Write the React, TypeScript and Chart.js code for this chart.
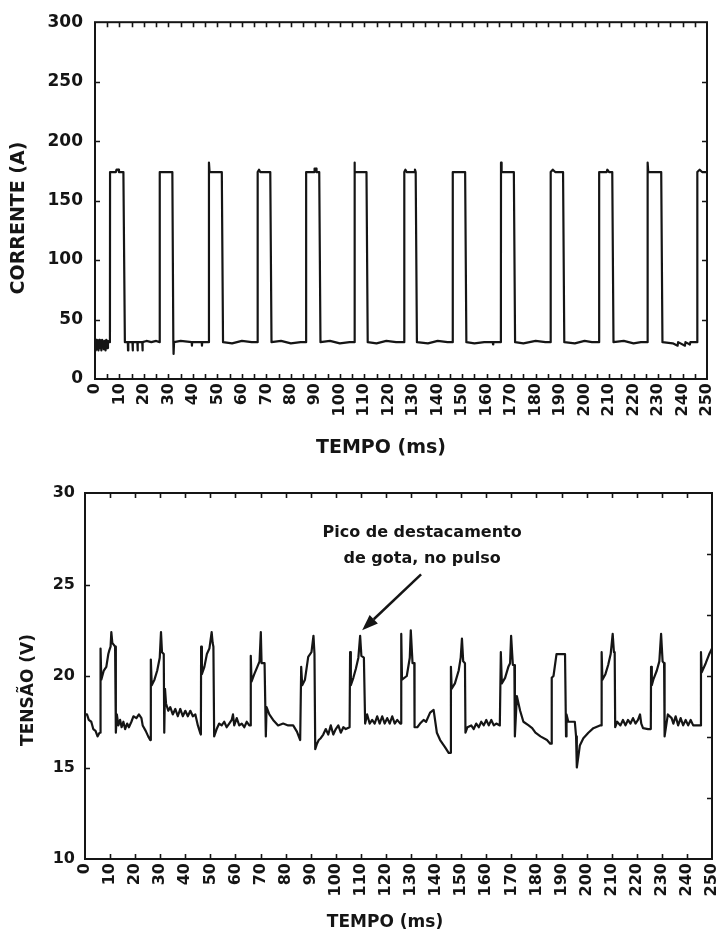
import React, { useEffect, useRef } from 'react';
import { Chart, registerables } from 'chart.js';

Chart.register(...registerables);

const INK = '#151515';
const FONT = "'DejaVu Sans', 'Liberation Sans', Arial, sans-serif";

// ---------- Top chart: CORRENTE (A) vs TEMPO (ms) ----------
const currentTitle = 'CORRENTE (A)';
const timeTitle = 'TEMPO (ms)';
const currentMin = 0;
const currentMax = 300;
const currentStep = 50;
const timeMin = 0;
const timeMax = 250;
const timeLabelStep = 10;

// [time ms, current A]
const currentTrace: [number, number][] = [
  [0, 31], [0.3, 24], [0.5, 33], [0.8, 25], [1.1, 32], [1.4, 24], [1.7, 33], [2.0, 26], [2.3, 32], [2.6, 24],
  [2.9, 33], [3.3, 31], [3.6, 25], [3.9, 32], [4.3, 24], [4.6, 33], [5.0, 26], [5.3, 32], [5.7, 31], [6.1, 31],
  // pulse 1
  [6.15, 174], [8.5, 174], [8.8, 176], [9.6, 176], [9.8, 174], [11.6, 174], [12.2, 31],
  [13.4, 31], [13.5, 24], [13.6, 31], [15.3, 31], [15.4, 24], [15.5, 31], [17.3, 31], [17.4, 24], [17.5, 31],
  [19.3, 31], [19.4, 24], [19.5, 31], [21, 32], [23, 31], [25, 32], [26.4, 31],
  // pulse 2
  [26.45, 174], [31.6, 174], [32.0, 31], [32.1, 21], [32.3, 31], [35, 32], [39.5, 31], [39.6, 28], [39.7, 31],
  [43.6, 31], [43.7, 28], [43.8, 31], [46.5, 31],
  // pulse 3
  [46.55, 182], [46.8, 174], [51.8, 174], [52.3, 31], [56, 30], [60, 32], [64, 31], [66.4, 31],
  // pulse 4
  [66.45, 174], [67.0, 176], [67.5, 174], [71.6, 174], [72.1, 31], [76, 32], [80, 30], [84, 31], [86.2, 31],
  // pulse 5
  [86.25, 174], [89.5, 174], [89.7, 177], [90.3, 177], [90.5, 174], [91.6, 174], [92.1, 31], [96, 32], [100, 30],
  [104, 31], [105.9, 31],
  // pulse 6
  [105.95, 182], [106.2, 174], [110.9, 174], [111.4, 31], [115, 30], [119, 32], [123, 31], [126.3, 31],
  // pulse 7
  [126.35, 174], [126.8, 176], [127.3, 174], [130.5, 174], [130.7, 176], [131.0, 174], [131.5, 31], [136, 30],
  [140, 32], [144, 31], [146.1, 31],
  // pulse 8
  [146.15, 174], [151.2, 174], [151.7, 31], [155, 30], [159, 31], [162.5, 31], [162.6, 29], [162.7, 31], [165.8, 31],
  // pulse 9
  [165.85, 182], [166.1, 174], [171.1, 174], [171.6, 31], [175, 30], [180, 32], [184, 31], [186.1, 31],
  // pulse 10
  [186.15, 174], [187, 176], [188, 174], [191.2, 174], [191.7, 31], [196, 30], [200, 32], [203, 31], [205.9, 31],
  // pulse 11
  [205.95, 174], [209, 174], [209.3, 176], [210, 174], [211.3, 174], [211.8, 31], [216, 32], [220, 30], [223, 31],
  [225.7, 31],
  // pulse 12
  [225.75, 182], [226, 174], [231.3, 174], [231.8, 31], [236, 30], [238, 28], [238.2, 31], [241, 28], [241.2, 31],
  [243, 29], [243.2, 31], [246.0, 31],
  // pulse 13
  [246.05, 174], [247, 176], [248, 174], [250, 174],
];

// ---------- Bottom chart: TENSÃO (V) vs TEMPO (ms) ----------
const voltageTitle = 'TENSÃO (V)';
const voltageMin = 10;
const voltageMax = 30;
const voltageStep = 5;
const voltageRightDivisions = 6;

// [time ms, voltage V]
const voltageTrace: [number, number][] = [
  [0, 17.9], [0.8, 17.9], [1.5, 17.6], [2.5, 17.5], [3.3, 17.1], [4.2, 17.0], [5.0, 16.7], [5.8, 16.9], [6.1, 16.9],
  [6.2, 21.5], [6.5, 19.8], [7.5, 20.3], [8.5, 20.5], [9.3, 21.2], [9.7, 21.4], [10.2, 21.6], [10.5, 22.4],
  [10.9, 21.8], [11.5, 21.7], [12.0, 21.6], [12.3, 16.9], [12.7, 17.9], [13.3, 17.3], [14, 17.6], [14.6, 17.2],
  [15.3, 17.5], [16, 17.1], [16.8, 17.4], [17.5, 17.2], [18.5, 17.5], [19.3, 17.8], [20.5, 17.7], [21.5, 17.9],
  [22.5, 17.7], [23, 17.3], [24.2, 17.0], [25.2, 16.7], [26.0, 16.5], [26.2, 16.6],
  [26.3, 20.9], [26.6, 19.5], [27.7, 19.8], [28.8, 20.3], [29.8, 21.0], [30.3, 22.4], [30.7, 21.3], [31.4, 21.2],
  [31.6, 16.9], [31.9, 19.3], [32.3, 18.5], [33.2, 18.1], [34, 18.3], [35, 17.9], [36, 18.2], [37, 17.8],
  [38, 18.2], [39, 17.8], [40, 18.1], [41, 17.8], [42, 18.1], [43, 17.8], [44, 17.9], [45, 17.3], [45.9, 16.9],
  [46.2, 16.8],
  [46.3, 21.6], [46.6, 20.1], [47.6, 20.5], [48.6, 21.2], [49.6, 21.5], [50.5, 22.4], [50.9, 21.8], [51.2, 21.6],
  [51.5, 16.7], [52.5, 17.1], [53.5, 17.4], [54.5, 17.3], [55.5, 17.5], [56.5, 17.2], [57.5, 17.4], [58.5, 17.6],
  [59.0, 17.9], [59.5, 17.3], [60.5, 17.7], [61.5, 17.3], [62.5, 17.4], [63.5, 17.2], [64.5, 17.5], [65.5, 17.3],
  [66.0, 17.3],
  [66.1, 21.1], [66.4, 19.7], [67.5, 20.1], [68.7, 20.5], [69.6, 20.8], [70.1, 22.4], [70.4, 20.7], [71.6, 20.7],
  [72.1, 16.7], [72.4, 18.3], [73.5, 17.9], [75, 17.6], [77, 17.3], [79, 17.4], [81, 17.3], [83, 17.3],
  [84.5, 16.96], [85.8, 16.5], [86.1, 16.5],
  [86.2, 20.5], [86.6, 19.5], [87.7, 19.8], [89, 21.05], [90.3, 21.3], [91.1, 22.2], [91.5, 21.2], [91.8, 16.0],
  [92.5, 16.3], [93.2, 16.5], [94, 16.6], [95, 16.8], [96, 17.1], [97, 16.8], [98, 17.3], [99, 16.8], [100, 17.1],
  [101, 17.3], [102, 16.9], [103, 17.2], [104, 17.1], [105.5, 17.2],
  [105.7, 21.3], [106, 19.5], [107, 19.9], [108, 20.4], [109, 21.0], [109.7, 22.2], [110.2, 21.1], [111.2, 21.0],
  [111.7, 17.4], [112.5, 17.9], [113.5, 17.4], [114.5, 17.6], [115.5, 17.4], [116.5, 17.8], [117.5, 17.4],
  [118.5, 17.8], [119.5, 17.4], [120.5, 17.7], [121.5, 17.4], [122.5, 17.8], [123.5, 17.4], [124.5, 17.6],
  [125.7, 17.4], [126.0, 17.4],
  [126.1, 22.3], [126.4, 19.8], [128.3, 20.0], [129.5, 21.0], [129.9, 22.5], [130.6, 20.7], [131.3, 20.7],
  [131.4, 17.2], [132.5, 17.2], [133.6, 17.4], [135, 17.6], [136, 17.5], [137.6, 18.0], [139, 18.15],
  [140.3, 16.9], [141.6, 16.5], [143.6, 16.1], [145, 15.8], [145.8, 15.8],
  [145.9, 20.5], [146.2, 19.3], [147.5, 19.6], [149, 20.3], [149.8, 21.0], [150.3, 22.05], [150.8, 20.8],
  [151.5, 20.7], [151.7, 16.9], [152.5, 17.2], [154, 17.3], [155, 17.1], [156, 17.4], [157, 17.2], [158, 17.5],
  [159, 17.3], [160, 17.6], [161, 17.3], [162, 17.6], [163, 17.3], [164, 17.4], [165.4, 17.3],
  [165.8, 21.3], [166.2, 19.6], [167.5, 19.9], [168.8, 20.5], [169.5, 20.7], [169.9, 22.2], [170.6, 20.6],
  [171.2, 20.6], [171.4, 16.7], [172.2, 18.9], [173.5, 18.1], [174.8, 17.5], [176.9, 17.3], [178.3, 17.15],
  [179.6, 16.9], [181.6, 16.7], [184.2, 16.5], [185.5, 16.3], [185.9, 16.3],
  [186.1, 19.9], [186.8, 20.0], [188, 21.2], [191.4, 21.2], [191.8, 16.7], [192, 17.9], [192.7, 17.5],
  [195.3, 17.5], [195.8, 16.7], [196.1, 15.0], [197.3, 16.2], [198.7, 16.6], [200.7, 16.9], [202.7, 17.15],
  [205.3, 17.3], [205.9, 17.3],
  [206.0, 21.3], [206.3, 19.8], [207.5, 20.1], [208.6, 20.6], [209.6, 21.2], [210.4, 22.3], [210.9, 21.3],
  [211.2, 21.3], [211.4, 17.2], [212.2, 17.5], [213.5, 17.3], [214.5, 17.6], [215.5, 17.3], [216.5, 17.6],
  [217.5, 17.4], [218.5, 17.7], [219.5, 17.4], [220.5, 17.6], [221.3, 17.9], [221.8, 17.4], [222.5, 17.15],
  [224.5, 17.1], [225.6, 17.1],
  [225.7, 20.5], [226.0, 19.5], [226.6, 19.8], [228, 20.3], [229, 20.8], [229.7, 22.3], [230.3, 20.8],
  [230.9, 20.7], [231.1, 16.7], [232.4, 17.9], [233.9, 17.7], [234.6, 17.4], [235.5, 17.8], [236.5, 17.3],
  [237.5, 17.7], [238.5, 17.3], [239.5, 17.6], [240.5, 17.3], [241.5, 17.6], [242.5, 17.3], [243.5, 17.3],
  [244.8, 17.3], [245.5, 17.3],
  [245.6, 21.3], [245.9, 20.2], [247.5, 20.7], [248.9, 21.2], [250, 21.5],
];

const annotationLines = ['Pico de destacamento', 'de gota, no pulso'];
const annotationTime = 134.4;
const annotationVolts = [27.8, 26.4];
const arrowTail: [number, number] = [134.0, 25.55];
const arrowTip: [number, number] = [110.5, 22.5];

type TitleSpec = { text: string; x: number; y: number; size: number };

type FrameOpts = {
  xTickStep: number;
  yLeftStep: number;
  yRightStep: number;
  tickLen: number;
  xTitle: TitleSpec;
  yTitle: TitleSpec;
  annotation?: boolean;
};

function framePlugin(o: FrameOpts) {
  return {
    id: 'frameTicks',
    afterDraw(chart: any) {
      const { ctx, chartArea: a, scales } = chart;
      const x = scales.x;
      const y = scales.y;
      ctx.save();
      ctx.strokeStyle = INK;
      ctx.lineWidth = 2;
      ctx.strokeRect(a.left, a.top, a.right - a.left, a.bottom - a.top);
      ctx.lineWidth = 1.6;
      ctx.beginPath();
      for (let v = x.min + o.xTickStep; v < x.max - 1e-6; v += o.xTickStep) {
        const px = Math.round(x.getPixelForValue(v)) + 0.5;
        ctx.moveTo(px, a.bottom);
        ctx.lineTo(px, a.bottom - o.tickLen);
        ctx.moveTo(px, a.top);
        ctx.lineTo(px, a.top + o.tickLen);
      }
      for (let v = y.min + o.yLeftStep; v < y.max - 1e-6; v += o.yLeftStep) {
        const py = Math.round(y.getPixelForValue(v)) + 0.5;
        ctx.moveTo(a.left, py);
        ctx.lineTo(a.left + o.tickLen, py);
      }
      for (let v = y.min + o.yRightStep; v < y.max - 1e-6; v += o.yRightStep) {
        const py = Math.round(y.getPixelForValue(v)) + 0.5;
        ctx.moveTo(a.right, py);
        ctx.lineTo(a.right - o.tickLen, py);
      }
      ctx.stroke();

      ctx.fillStyle = INK;
      ctx.textAlign = 'center';
      ctx.textBaseline = 'middle';
      ctx.font = `bold ${o.xTitle.size}px ${FONT}`;
      ctx.fillText(o.xTitle.text, o.xTitle.x, o.xTitle.y);
      ctx.save();
      ctx.translate(o.yTitle.x, o.yTitle.y);
      ctx.rotate(-Math.PI / 2);
      ctx.font = `bold ${o.yTitle.size}px ${FONT}`;
      ctx.fillText(o.yTitle.text, 0, 0);
      ctx.restore();

      if (o.annotation) {
        ctx.font = `bold 16px ${FONT}`;
        const tx = x.getPixelForValue(annotationTime);
        annotationLines.forEach((line, i) => {
          ctx.fillText(line, tx, y.getPixelForValue(annotationVolts[i]));
        });
        const x0 = x.getPixelForValue(arrowTail[0]);
        const y0 = y.getPixelForValue(arrowTail[1]);
        const x1 = x.getPixelForValue(arrowTip[0]);
        const y1 = y.getPixelForValue(arrowTip[1]);
        const ang = Math.atan2(y1 - y0, x1 - x0);
        const headLen = 16;
        const headHalf = 6;
        const bx = x1 - headLen * Math.cos(ang);
        const by = y1 - headLen * Math.sin(ang);
        ctx.lineWidth = 2.5;
        ctx.beginPath();
        ctx.moveTo(x0, y0);
        ctx.lineTo(bx, by);
        ctx.stroke();
        ctx.beginPath();
        ctx.moveTo(x1, y1);
        ctx.lineTo(bx + headHalf * Math.sin(ang), by - headHalf * Math.cos(ang));
        ctx.lineTo(bx - headHalf * Math.sin(ang), by + headHalf * Math.cos(ang));
        ctx.closePath();
        ctx.fill();
      }
      ctx.restore();
    },
  };
}

type ChartSpec = {
  height: number;
  trace: [number, number][];
  yMin: number;
  yMax: number;
  yStep: number;
  plotLeft: number;
  plotTop: number;
  plotRight: number;
  plotBottom: number;
  yTickSize: number;
  xTickSize: number;
  yTickPad: number;
  frame: FrameOpts;
};

function TraceChart({ spec, top }: { spec: ChartSpec; top: number }) {
  const ref = useRef<HTMLCanvasElement>(null);
  useEffect(() => {
    if (!ref.current) return;
    const W = 719;
    const chart = new Chart(ref.current, {
      type: 'line',
      data: {
        datasets: [
          {
            data: spec.trace.map(([t, v]) => ({ x: t, y: v })),
            borderColor: INK,
            borderWidth: 2.2,
            borderJoinStyle: 'round',
            pointRadius: 0,
            tension: 0,
            fill: false,
          },
        ],
      },
      options: {
        animation: false,
        responsive: false,
        maintainAspectRatio: false,
        events: [],
        layout: {
          padding: { left: 0, top: spec.plotTop, right: W - spec.plotRight, bottom: 0 },
        },
        plugins: { legend: { display: false }, tooltip: { enabled: false } },
        scales: {
          x: {
            type: 'linear',
            min: timeMin,
            max: timeMax,
            grid: { display: false, drawTicks: false },
            border: { display: false },
            ticks: {
              stepSize: timeLabelStep,
              autoSkip: false,
              minRotation: 90,
              maxRotation: 90,
              padding: 4,
              color: INK,
              font: { family: FONT, size: spec.xTickSize, weight: 'bold' },
            },
            afterFit: (s: any) => {
              s.height = spec.height - spec.plotBottom;
              s.paddingRight = 0;
              s.paddingLeft = 0;
            },
          },
          y: {
            type: 'linear',
            min: spec.yMin,
            max: spec.yMax,
            grid: { display: false, drawTicks: false },
            border: { display: false },
            ticks: {
              stepSize: spec.yStep,
              padding: spec.yTickPad,
              color: INK,
              font: { family: FONT, size: spec.yTickSize, weight: 'bold' },
            },
            afterFit: (s: any) => {
              s.width = spec.plotLeft;
            },
          },
        },
      },
      plugins: [framePlugin(spec.frame)],
    } as any);
    return () => chart.destroy();
  }, [spec]);
  return (
    <canvas
      ref={ref}
      width={719}
      height={spec.height}
      style={{ position: 'absolute', left: 0, top, width: 719, height: spec.height, display: 'block' }}
    />
  );
}

const topSpec: ChartSpec = {
  height: 470,
  trace: currentTrace,
  yMin: currentMin,
  yMax: currentMax,
  yStep: currentStep,
  plotLeft: 95,
  plotTop: 18,
  plotRight: 707,
  plotBottom: 379,
  yTickSize: 17,
  xTickSize: 16,
  yTickPad: 12,
  frame: {
    xTickStep: 5,
    yLeftStep: currentStep,
    yRightStep: currentStep,
    tickLen: 5,
    xTitle: { text: timeTitle, x: 381, y: 448, size: 19 },
    yTitle: { text: currentTitle, x: 19, y: 218, size: 19 },
  },
};

const bottomSpec: ChartSpec = {
  height: 463,
  trace: voltageTrace,
  yMin: voltageMin,
  yMax: voltageMax,
  yStep: voltageStep,
  plotLeft: 85,
  plotTop: 23,
  plotRight: 712,
  plotBottom: 389,
  yTickSize: 16,
  xTickSize: 16,
  yTickPad: 10,
  frame: {
    xTickStep: 10,
    yLeftStep: voltageStep,
    yRightStep: (voltageMax - voltageMin) / voltageRightDivisions,
    tickLen: 5,
    xTitle: { text: timeTitle, x: 385, y: 453, size: 17 },
    yTitle: { text: voltageTitle, x: 29, y: 220, size: 17 },
    annotation: true,
  },
};

export default function App() {
  return (
    <div style={{ position: 'absolute', left: 0, top: 0, width: 719, height: 933, background: '#fff' }}>
      <TraceChart spec={topSpec} top={0} />
      <TraceChart spec={bottomSpec} top={470} />
    </div>
  );
}
